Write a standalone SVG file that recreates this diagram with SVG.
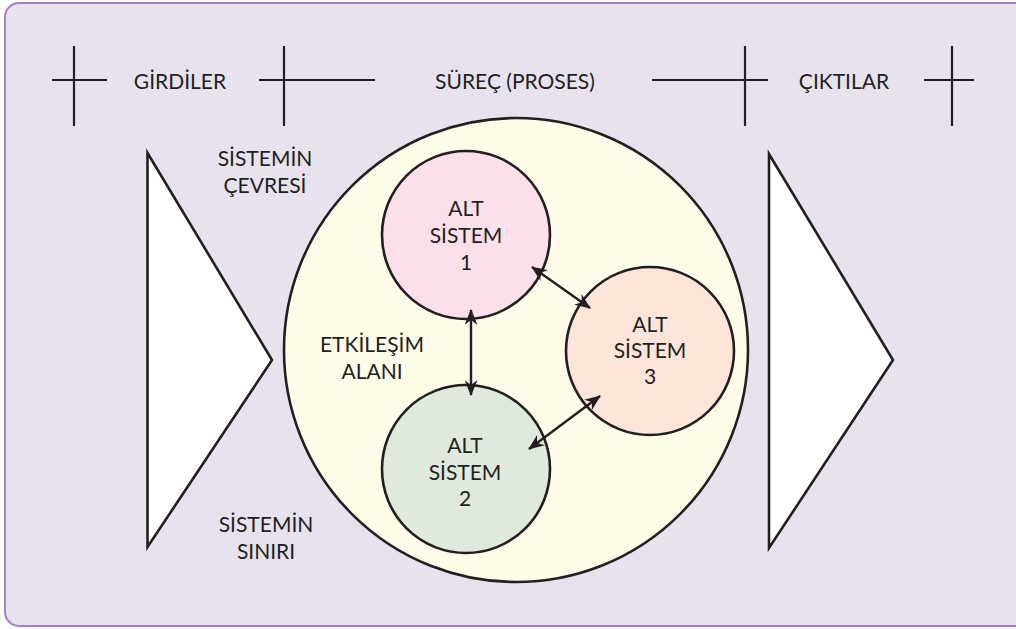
<svg xmlns="http://www.w3.org/2000/svg" width="1016" height="629" viewBox="0 0 1016 629">
<style>
.t{font-family:Lato,"Open Sans","Liberation Sans",sans-serif;font-size:21px;fill:#231f20;text-anchor:middle}
.ln{stroke:#231f20;stroke-width:2.2;fill:none}
.c{stroke:#231f20;stroke-width:2.6}
.a{stroke:#231f20;stroke-width:2.4;fill:none;marker-start:url(#ah);marker-end:url(#ah)}
</style>
<defs>
<marker id="ah" viewBox="0 0 16 13" refX="15" refY="6.5" markerWidth="16" markerHeight="13" markerUnits="userSpaceOnUse" orient="auto-start-reverse">
<path d="M0,0 L16,6.5 L0,13 L5,6.5 z" fill="#231f20"/>
</marker>
</defs>
<rect x="5" y="3" width="1030" height="623" rx="14" fill="#e8e2ef" stroke="#a57fc4" stroke-width="2"/>
<g id="crosses">
<path class="ln" d="M74,46V126M52,80H107"/>
<path class="ln" d="M284,46V126M259,80H375"/>
<path class="ln" d="M745,46V126M652,80H768"/>
<path class="ln" d="M952,46V126M924,80H974"/>
</g>
<g id="headers">
<text class="t" x="180" y="89">GİRDİLER</text>
<text class="t" x="515" y="89">SÜREÇ (PROSES)</text>
<text class="t" x="844" y="89">ÇIKTILAR</text>
</g>
<g id="input"><polygon points="147.5,153 272,360 147.5,547" fill="#fff" stroke="#231f20" stroke-width="2.6"/></g>
<g id="output"><polygon points="769,154 893,360 769,548" fill="#fff" stroke="#231f20" stroke-width="2.6"/></g>
<g id="system"><circle class="c" cx="516" cy="350" r="232" fill="#fefbe9"/></g>
<g id="sub1"><circle class="c" cx="466" cy="235" r="84" fill="#fbdfeb"/>
<text class="t" x="466" y="216">ALT</text><text class="t" x="466" y="243">SİSTEM</text><text class="t" x="466" y="270">1</text></g>
<g id="sub2"><circle class="c" cx="466" cy="469" r="84" fill="#dfeadc"/>
<text class="t" x="465" y="453">ALT</text><text class="t" x="465" y="480">SİSTEM</text><text class="t" x="465" y="506">2</text></g>
<g id="sub3"><circle class="c" cx="650" cy="351" r="84" fill="#fde5da"/>
<text class="t" x="650" y="332">ALT</text><text class="t" x="650" y="358">SİSTEM</text><text class="t" x="650" y="384">3</text></g>
<g id="connectors">
<line class="a" x1="471" y1="310" x2="471" y2="395"/>
<line class="a" x1="532" y1="267" x2="590" y2="308"/>
<line class="a" x1="600" y1="396" x2="529" y2="449"/>
</g>
<g id="labels">
<text class="t" x="265" y="166">SİSTEMİN</text><text class="t" x="265" y="193">ÇEVRESİ</text>
<text class="t" x="372" y="352">ETKİLEŞİM</text><text class="t" x="372" y="379">ALANI</text>
<text class="t" x="266" y="532">SİSTEMİN</text><text class="t" x="266" y="559">SINIRI</text>
</g>
</svg>
